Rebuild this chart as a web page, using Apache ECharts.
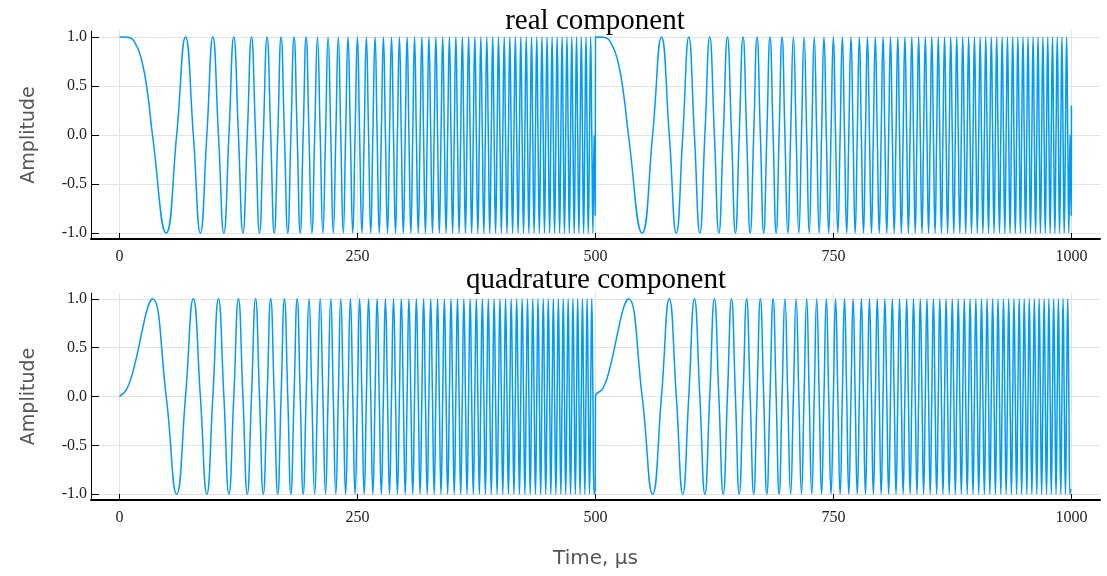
<!DOCTYPE html>
<html>
<head>
<meta charset="utf-8">
<script src="https://cdn.jsdelivr.net/npm/echarts@6/dist/echarts.min.js"></script>
<style>
html, body { margin: 0; padding: 0; background: #fff; }
#chart { width: 1107px; height: 576px; }
</style>
</head>
<body>
<div id="chart"></div>
<script>
// one chirp sweep (0..500 us): times of the peaks, troughs and zero crossings
var sweepTimes = [
    0, 8, 16, 24, 30,
    34.6, 49.0, 60.0, 69.3, 77.5, 84.9, 91.7, 98.0, 103.9, 109.6, 114.9, 120.0, 124.9, 129.6, 134.2,
    138.6, 142.9, 147.0, 151.0, 155.0, 158.8, 162.5, 166.2, 169.7, 173.2, 176.7, 180.0, 183.3, 186.6, 189.8, 192.9,
    196.0, 199.0, 202.0, 205.0, 207.9, 210.8, 213.6, 216.4, 219.1, 221.9, 224.5, 227.2, 229.8, 232.4, 235.0, 237.5,
    240.0, 242.5, 245.0, 247.4, 249.9, 252.2, 254.6, 257.0, 259.3, 261.6, 263.9, 266.1, 268.4, 270.6, 272.8, 275.0,
    277.2, 279.3, 281.5, 283.6, 285.7, 287.8, 289.9, 291.9, 294.0, 296.0, 298.1, 300.1, 302.1, 304.0, 306.0, 308.0,
    309.9, 311.8, 313.8, 315.7, 317.6, 319.4, 321.3, 323.2, 325.0, 326.9, 328.7, 330.5, 332.3, 334.1, 335.9, 337.7,
    339.5, 341.2, 343.0, 344.7, 346.5, 348.2, 349.9, 351.6, 353.3, 355.0, 356.7, 358.4, 360.1, 361.7, 363.4, 365.0,
    366.7, 368.3, 369.9, 371.6, 373.2, 374.8, 376.4, 378.0, 379.5, 381.1, 382.7, 384.3, 385.8, 387.4, 388.9, 390.5,
    392.0, 393.5, 395.0, 396.6, 398.1, 399.6, 401.1, 402.6, 404.1, 405.5, 407.0, 408.5, 410.0, 411.4, 412.9, 414.3,
    415.8, 417.2, 418.7, 420.1, 421.5, 422.9, 424.4, 425.8, 427.2, 428.6, 430.0, 431.4, 432.8, 434.1, 435.5, 436.9,
    438.3, 439.6, 441.0, 442.4, 443.7, 445.1, 446.4, 447.7, 449.1, 450.4, 451.8, 453.1, 454.4, 455.7, 457.0, 458.4,
    459.7, 461.0, 462.3, 463.6, 464.9, 466.1, 467.4, 468.7, 470.0, 471.3, 472.5, 473.8, 475.1, 476.3, 477.6, 478.8,
    480.1, 481.3, 482.6, 483.8, 485.1, 486.3, 487.5, 488.8, 490.0, 491.2, 492.4, 493.7, 494.9, 496.1, 497.3, 498.5,
    499.7
];
var realValues = [
    1, 0.996, 0.944, 0.729, 0.383,
    0, -1, 0, 1, 0, -1, 0, 1, 0, -1, 0, 1, 0, -1, 0,
    1, 0, -1, 0, 1, 0, -1, 0, 1, 0, -1, 0, 1, 0, -1, 0,
    1, 0, -1, 0, 1, 0, -1, 0, 1, 0, -1, 0, 1, 0, -1, 0,
    1, 0, -1, 0, 1, 0, -1, 0, 1, 0, -1, 0, 1, 0, -1, 0,
    1, 0, -1, 0, 1, 0, -1, 0, 1, 0, -1, 0, 1, 0, -1, 0,
    1, 0, -1, 0, 1, 0, -1, 0, 1, 0, -1, 0, 1, 0, -1, 0,
    1, 0, -1, 0, 1, 0, -1, 0, 1, 0, -1, 0, 1, 0, -1, 0,
    1, 0, -1, 0, 1, 0, -1, 0, 1, 0, -1, 0, 1, 0, -1, 0,
    1, 0, -1, 0, 1, 0, -1, 0, 1, 0, -1, 0, 1, 0, -1, 0,
    1, 0, -1, 0, 1, 0, -1, 0, 1, 0, -1, 0, 1, 0, -1, 0,
    1, 0, -1, 0, 1, 0, -1, 0, 1, 0, -1, 0, 1, 0, -1, 0,
    1, 0, -1, 0, 1, 0, -1, 0, 1, 0, -1, 0, 1, 0, -1, 0,
    1, 0, -1, 0, 1, 0, -1, 0, 1, 0, -1, 0, 1, 0, -1, 0,
    -0.82
];
var quadValues = [
    0, 0.084, 0.329, 0.685, 0.924,
    1, 0, -1, 0, 1, 0, -1, 0, 1, 0, -1, 0, 1, 0, -1,
    0, 1, 0, -1, 0, 1, 0, -1, 0, 1, 0, -1, 0, 1, 0, -1,
    0, 1, 0, -1, 0, 1, 0, -1, 0, 1, 0, -1, 0, 1, 0, -1,
    0, 1, 0, -1, 0, 1, 0, -1, 0, 1, 0, -1, 0, 1, 0, -1,
    0, 1, 0, -1, 0, 1, 0, -1, 0, 1, 0, -1, 0, 1, 0, -1,
    0, 1, 0, -1, 0, 1, 0, -1, 0, 1, 0, -1, 0, 1, 0, -1,
    0, 1, 0, -1, 0, 1, 0, -1, 0, 1, 0, -1, 0, 1, 0, -1,
    0, 1, 0, -1, 0, 1, 0, -1, 0, 1, 0, -1, 0, 1, 0, -1,
    0, 1, 0, -1, 0, 1, 0, -1, 0, 1, 0, -1, 0, 1, 0, -1,
    0, 1, 0, -1, 0, 1, 0, -1, 0, 1, 0, -1, 0, 1, 0, -1,
    0, 1, 0, -1, 0, 1, 0, -1, 0, 1, 0, -1, 0, 1, 0, -1,
    0, 1, 0, -1, 0, 1, 0, -1, 0, 1, 0, -1, 0, 1, 0, -1,
    0, 1, 0, -1, 0, 1, 0, -1, 0, 1, 0, -1, 0, 1, 0, -1,
    -0.95
];
// the sweep is repeated twice, then the record ends with one last sample
var sweepStarts = [0, 500];
var realLast = [1000, 0.3];
var quadLast = [1000, -0.95];
var xTicks = [0, 250, 500, 750, 1000];
var yTicks = [-1, -0.5, 0, 0.5, 1];
var panelTitles = ['real component', 'quadrature component'];

function buildSeries(values, last) {
    var out = [];
    for (var s = 0; s < sweepStarts.length; s++) {
        for (var i = 0; i < sweepTimes.length; i++) {
            out.push([sweepStarts[s] + sweepTimes[i], values[i]]);
        }
    }
    out.push(last);
    return out;
}

var serif = 'Liberation Serif';
var gridList = [
    { left: 91, top: 31, width: 1009, height: 208 },
    { left: 91, top: 293, width: 1009, height: 207 }
];

function makeX(idx) {
    var ax = {
        type: 'value',
        gridIndex: idx,
        min: -30,
        max: 1030,
        axisLine: { onZero: false, lineStyle: { color: '#000', width: 2 } },
        axisTick: { inside: true, length: 6, customValues: xTicks, lineStyle: { color: '#000', width: 1 } },
        axisLabel: {
            customValues: xTicks, margin: 10, fontFamily: serif, fontSize: 16, color: '#222',
            formatter: function (v) { return String(v); }
        },
        splitLine: { show: true, lineStyle: { color: '#e3e3e3', width: 1 } }
    };
    if (idx == 1) {
        ax.name = 'Time, μs';
        ax.nameLocation = 'middle';
        ax.nameGap = 49;
        ax.nameTextStyle = { fontFamily: 'DejaVu Sans', fontSize: 20, color: '#555' };
    }
    return ax;
}

function makeY(idx) {
    return {
        type: 'value',
        gridIndex: idx,
        min: -1.06,
        max: 1.06,
        name: 'Amplitude',
        nameLocation: 'middle',
        nameGap: 52,
        nameRotate: 90,
        nameTextStyle: { fontFamily: 'DejaVu Sans', fontSize: 19, color: '#555' },
        axisLine: { show: true, onZero: false, lineStyle: { color: '#000', width: 1 } },
        axisTick: { show: true, inside: true, length: 8, customValues: yTicks, lineStyle: { color: '#000', width: 1 } },
        axisLabel: {
            customValues: yTicks, margin: 4, fontFamily: serif, fontSize: 16, color: '#222',
            formatter: function (v) { return v.toFixed(1); }
        },
        splitLine: { show: true, lineStyle: { color: '#e3e3e3', width: 1 } }
    };
}

var myChart = echarts.init(document.getElementById('chart'));
var option = {
    animation: false,
    backgroundColor: '#fff',
    grid: gridList,
    xAxis: [makeX(0), makeX(1)],
    yAxis: [makeY(0), makeY(1)],
    graphic: [
        { type: 'text', x: 595, y: 21, style: { text: panelTitles[0], font: '29px "Liberation Serif"', fill: '#000', textAlign: 'center', textVerticalAlign: 'middle' } },
        { type: 'text', x: 596, y: 280, style: { text: panelTitles[1], font: '29px "Liberation Serif"', fill: '#000', textAlign: 'center', textVerticalAlign: 'middle' } }
    ],
    series: [
        {
            type: 'line', xAxisIndex: 0, yAxisIndex: 0,
            data: buildSeries(realValues, realLast),
            showSymbol: false, smooth: 0.5,
            lineStyle: { color: '#009AFA', width: 1.5 }
        },
        {
            type: 'line', xAxisIndex: 1, yAxisIndex: 1,
            data: buildSeries(quadValues, quadLast),
            showSymbol: false, smooth: 0.5,
            lineStyle: { color: '#009AFA', width: 1.5 }
        }
    ]
};
myChart.setOption(option);
</script>
</body>
</html>
